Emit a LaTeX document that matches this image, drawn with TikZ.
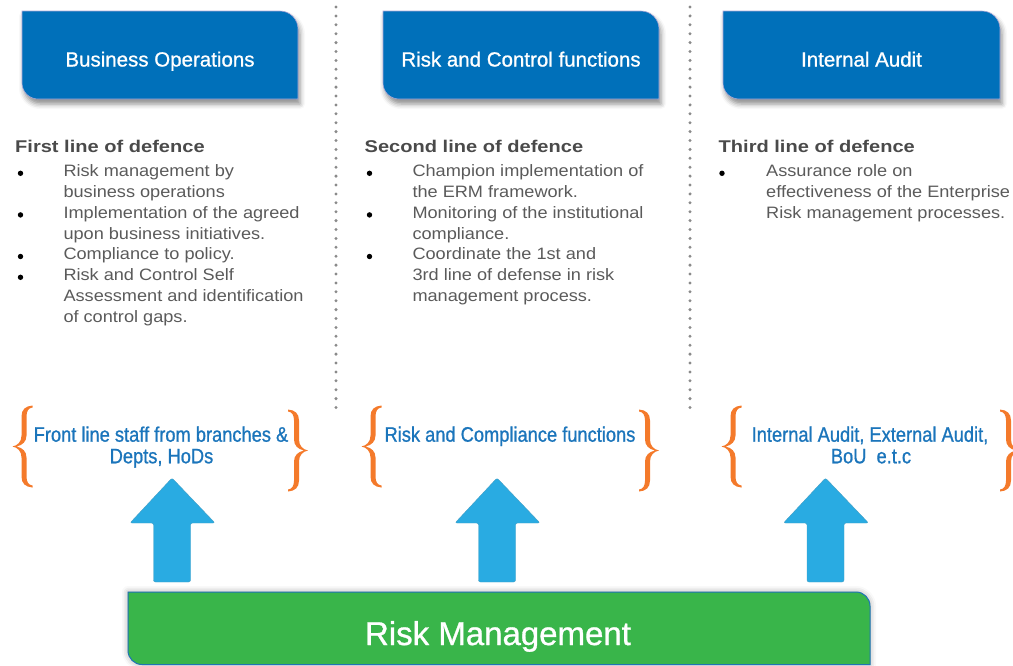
\documentclass[tikz,border=0pt]{standalone}
\usepackage{fontspec}
\setmainfont{Liberation Sans}
\newfontfamily\medfont[FakeBold=0.9]{Liberation Sans}
\newfontfamily\condfont[FakeStretch=0.87, FakeBold=0.9]{Liberation Sans}
\newfontfamily\bodyfont[FakeStretch=1.1]{Liberation Sans}
\newfontfamily\headfont[FakeStretch=1.18]{Liberation Sans}
\usetikzlibrary{shadows.blur}

\definecolor{boxblue}{HTML}{0070BA}
\definecolor{boxedge}{HTML}{A9A6D8}
\definecolor{lblblue}{HTML}{1B75BB}
\definecolor{arrowblue}{HTML}{29ABE2}
\definecolor{rmgreen}{HTML}{39B54A}
\definecolor{rmedge}{HTML}{1F74B5}
\definecolor{braceorange}{HTML}{F47A2B}
\definecolor{dotgray}{HTML}{8A8A8A}
\definecolor{bodygray}{HTML}{5A5A5A}
\definecolor{headgray}{HTML}{4A4A4A}

\tikzset{
  titlebox/.style={fill=boxblue, draw=boxedge, line width=0.6pt,
    blur shadow={shadow xshift=2pt, shadow yshift=-5pt, shadow blur radius=5pt, shadow opacity=45}},
  rmbox/.style={fill=rmgreen, draw=rmedge, line width=1pt,
    blur shadow={shadow xshift=0pt, shadow yshift=0pt, shadow blur radius=6pt, shadow opacity=35}},
  blockarrow/.style={fill=arrowblue, draw=arrowblue!70!gray, line width=0.4pt, rounded corners=2pt},
  dotline/.style={dotgray, line width=3.3pt, line cap=round, dash pattern=on 0pt off 8.9pt},
  title/.style={anchor=base, text=white, inner sep=0pt, font=\medfont\fontsize{20.5}{24}\selectfont},
  head/.style={anchor=base west, text=headgray, inner sep=0pt, font=\headfont\bfseries\fontsize{17}{20}\selectfont},
  body/.style={anchor=base west, text=bodygray, inner sep=0pt, font=\bodyfont\fontsize{16.5}{20}\selectfont},
  bul/.style={circle, fill=black, inner sep=0pt, minimum size=5.4pt},
  lbl/.style={anchor=base, text=lblblue, inner sep=0pt, font=\condfont\fontsize{21}{24}\selectfont},
  lbrace/.pic={
    \fill[braceorange] (20,-41) .. controls (13,-40.5) and (9,-37) .. (9,-30) -- (9,-11)
      .. controls (9,-4.5) and (5,-1) .. (0,0) .. controls (5,1) and (9,4.5) .. (9,11) -- (9,30)
      .. controls (9,37) and (13,40.5) .. (20,41) -- (20,39) .. controls (16,38.5) and (14,35.5) .. (14,30)
      -- (14,11) .. controls (14,5) and (10,1.2) .. (4,0) .. controls (10,-1.2) and (14,-5) .. (14,-11)
      -- (14,-30) .. controls (14,-35.5) and (16,-38.5) .. (20,-39) -- cycle;
  }
}

\begin{document}
\begin{tikzpicture}[x=1pt, y=-1pt]
\useasboundingbox (0,0) rectangle (1013,665);

% column separators
\draw[dotline] (336,7) -- (336,415);
\draw[dotline] (690,7) -- (690,415);

% title boxes (rounded top-right and bottom-left corners)
\path[titlebox] (22,11) -- (280,11) .. controls (290,11) and (298,19) .. (298,29) -- (298,99)
  -- (38,99) .. controls (29.2,99) and (22,91.8) .. (22,83) -- cycle;
\path[titlebox] (383,11) -- (641,11) .. controls (651,11) and (659,19) .. (659,29) -- (659,99)
  -- (399,99) .. controls (390.2,99) and (383,91.8) .. (383,83) -- cycle;
\path[titlebox] (723,11) -- (982,11) .. controls (992,11) and (1000,19) .. (1000,29) -- (1000,99)
  -- (739,99) .. controls (730.2,99) and (723,91.8) .. (723,83) -- cycle;

\node[title] (t1) at (160,66.5) {Business Operations};
\node[title] (t2) at (521,66.5) {Risk and Control functions};
\node[title] (t3) at (861.5,66.5) {Internal Audit};

% first line of defence
\node[head] (h1) at (15,152.7) {First line of defence};
\foreach [count=\k from 0] \t in {Risk management by, business operations,
    Implementation of the agreed, upon business initiatives., Compliance to policy.,
    Risk and Control Self, Assessment and identification, of control gaps.}
  \node[body] (c1l\k) at (63.3,176.7+20.8*\k) {\t};
\foreach \k in {0,2,4,5}
  \node[bul] (b1l\k) at (20.5,173.3+20.8*\k) {};

% second line of defence
\node[head] (h2) at (364.5,152.7) {Second line of defence};
\foreach [count=\k from 0] \t in {Champion implementation of, the ERM framework.,
    Monitoring of the institutional, compliance., Coordinate the 1st and,
    3rd line of defense in risk, management process.}
  \node[body] (c2l\k) at (412.3,176.7+20.8*\k) {\t};
\foreach \k in {0,2,4}
  \node[bul] (b2l\k) at (369.5,173.3+20.8*\k) {};

% third line of defence
\node[head] (h3) at (718.5,152.7) {Third line of defence};
\foreach [count=\k from 0] \t in {Assurance role on, effectiveness of the Enterprise,
    Risk management processes.}
  \node[body] (c3l\k) at (766,176.7+20.8*\k) {\t};
\node[bul] (b3l0) at (722,173.3) {};

% braces
\pic at (12.5,446.5) {lbrace};
\pic[xscale=-1] at (308,450.5) {lbrace};
\pic at (361.5,446.5) {lbrace};
\pic[xscale=-1] at (659,450.5) {lbrace};
\pic at (721.5,446.5) {lbrace};
\pic[xscale=-1] at (1020,450.5) {lbrace};

% who holds each line
\node[lbl] (f1a) at (161,441.7) {Front line staff from branches \&};
\node[lbl] (f1b) at (161.5,463.3) {Depts, HoDs};
\node[lbl] (f2) at (510,441.7) {Risk and Compliance functions};
\node[lbl] (f3a) at (870,441.7) {Internal Audit, External Audit,};
\node[lbl] (f3b) at (871,463.3) {BoU\ \ e.t.c};

% upward block arrows
\foreach \cx in {172,497,825.5}
  \path[blockarrow] (\cx-18.5,582) -- (\cx-18.5,523) -- (\cx-42,523) -- (\cx,478)
    -- (\cx+43,523) -- (\cx+18.5,523) -- (\cx+18.5,582) -- cycle;

% risk management base
\path[rmbox] (128,592) -- (856,592) .. controls (863.7,592) and (870,598.3) .. (870,606) -- (870,664.5)
  -- (142,664.5) .. controls (134.3,664.5) and (128,658.2) .. (128,650.5) -- cycle;
\node[anchor=base, text=white, inner sep=0pt, font=\medfont\fontsize{33}{36}\selectfont] (rm) at (498,645) {Risk Management};
\end{tikzpicture}
\end{document}
